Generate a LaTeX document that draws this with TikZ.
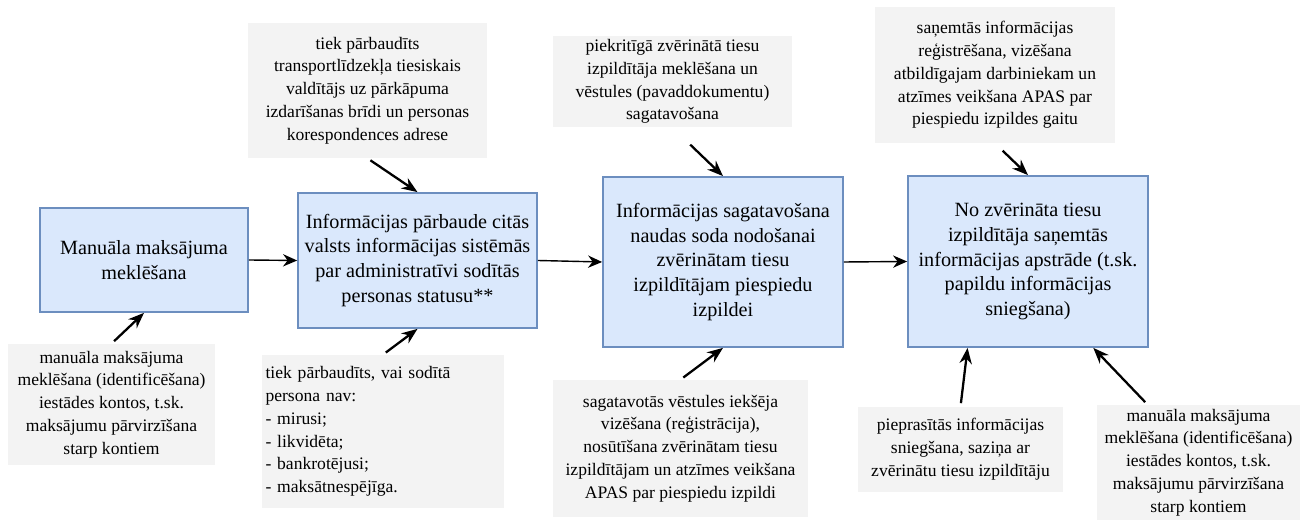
\documentclass[tikz,border=0pt]{standalone}
\usepackage{fontspec}
\setmainfont{Liberation Serif}
\usepackage{tikz}
\usetikzlibrary{arrows.meta}
\usetikzlibrary{calc}
\definecolor{boxfill}{HTML}{DAE8FC}
\definecolor{boxline}{HTML}{6C8EBF}
\definecolor{notefill}{HTML}{F3F3F3}
\begin{document}
\begin{tikzpicture}[
  stage/.style={draw=boxline, fill=boxfill, line width=1pt, align=center,
    font=\fontsize{11.5}{14.2}\selectfont, inner sep=2pt},
  note/.style={fill=notefill, align=center, font=\fontsize{10}{13}\selectfont, inner sep=2pt},
  flow/.style={-{Stealth[length=8pt,width=7pt]}, line width=0.8pt},
  hint/.style={-{Stealth[length=9pt,width=7pt]}, line width=1.3pt, shorten <=2pt}
]
\useasboundingbox (0,0) rectangle (26.16,10.4);

\node[stage, minimum width=4.16cm, minimum height=2.08cm] (A) at (2.88,5.2) {Manuāla maksājuma\\meklēšana};
\node[stage, minimum width=4.78cm, minimum height=2.7cm] (B) at (8.35,5.19) {Informācijas pārbaude citās\\valsts informācijas sistēmās\\par administratīvi sodītās\\personas statusu**};
\node[stage, minimum width=4.8cm, minimum height=3.4cm] (C) at (14.46,5.16) {Informācijas sagatavošana\\naudas soda nodošanai\\zvērinātam tiesu\\izpildītājam piespiedu\\izpildei};
\node[stage, minimum width=4.8cm, minimum height=3.42cm] (D) at (20.56,5.17) {No zvērināta tiesu\\izpildītāja saņemtās\\informācijas apstrāde (t.sk.\\papildu informācijas\\sniegšana)};

\node[note, minimum width=4.14cm, minimum height=2.42cm] (n1) at (2.23,2.31) {manuāla maksājuma\\meklēšana (identificēšana)\\iestādes kontos, t.sk.\\maksājumu pārvirzīšana\\starp kontiem};
\node[note, minimum width=4.78cm, minimum height=2.7cm] (n2) at (7.35,8.59) {tiek pārbaudīts\\transportlīdzekļa tiesiskais\\valdītājs uz pārkāpuma\\izdarīšanas brīdi un personas\\korespondences adrese};
\node[note, minimum width=4.8cm, minimum height=3.06cm, align=left, text width=4.7cm] (n3) at (7.66,1.77) {tiek pārbaudīts, vai sodītā\\persona nav:\\- mirusi;\\- likvidēta;\\- bankrotējusi;\\- maksātnespējīga.};
\node[note, minimum width=4.78cm, minimum height=1.66cm] (n4) at (13.45,8.77) {piekritīgā zvērinātā tiesu\\izpildītāja meklēšana un\\vēstules (pavaddokumentu)\\sagatavošana};
\node[note, minimum width=5.1cm, minimum height=2.74cm] (n5) at (13.61,1.43) {sagatavotās vēstules iekšēja\\vizēšana (reģistrācija),\\nosūtīšana zvērinātam tiesu\\izpildītājam un atzīmes veikšana\\APAS par piespiedu izpildi};
\node[note, minimum width=4.8cm, minimum height=2.72cm] (n6) at (19.9,8.9) {saņemtās informācijas\\reģistrēšana, vizēšana\\atbildīgajam darbiniekam un\\atzīmes veikšana APAS par\\piespiedu izpildes gaitu};
\node[note, minimum width=4.1cm, minimum height=1.7cm] (n7) at (19.21,1.41) {pieprasītās informācijas\\sniegšana, saziņa ar\\zvērinātu tiesu izpildītāju};
\node[note, minimum width=4.06cm, minimum height=2.3cm] (n8) at (23.97,1.15) {manuāla maksājuma\\meklēšana (identificēšana)\\iestādes kontos, t.sk.\\maksājumu pārvirzīšana\\starp kontiem};

\draw[flow] (A.east) -- (B.west);
\draw[flow] (B.east) -- (C.west);
\draw[flow] (C.east) -- (D.west);

\draw[hint] (n1.north) -- (A.south);
\draw[hint] (n2.south) -- (B.north);
\draw[hint] (n3.north) -- (B.south);
\draw[hint, shorten <=14pt] (n4.south) -- (C.north);
\draw[hint] (n5.north) -- (C.south);
\draw[hint, shorten <=6pt] (n6.south) -- (D.north);
\draw[hint] (n7.north) -- ($(D.south west)!0.25!(D.south east)$);
\draw[hint] ($(n8.north west)!0.25!(n8.north east)$) -- ($(D.south west)!0.77!(D.south east)$);
\end{tikzpicture}
\end{document}
